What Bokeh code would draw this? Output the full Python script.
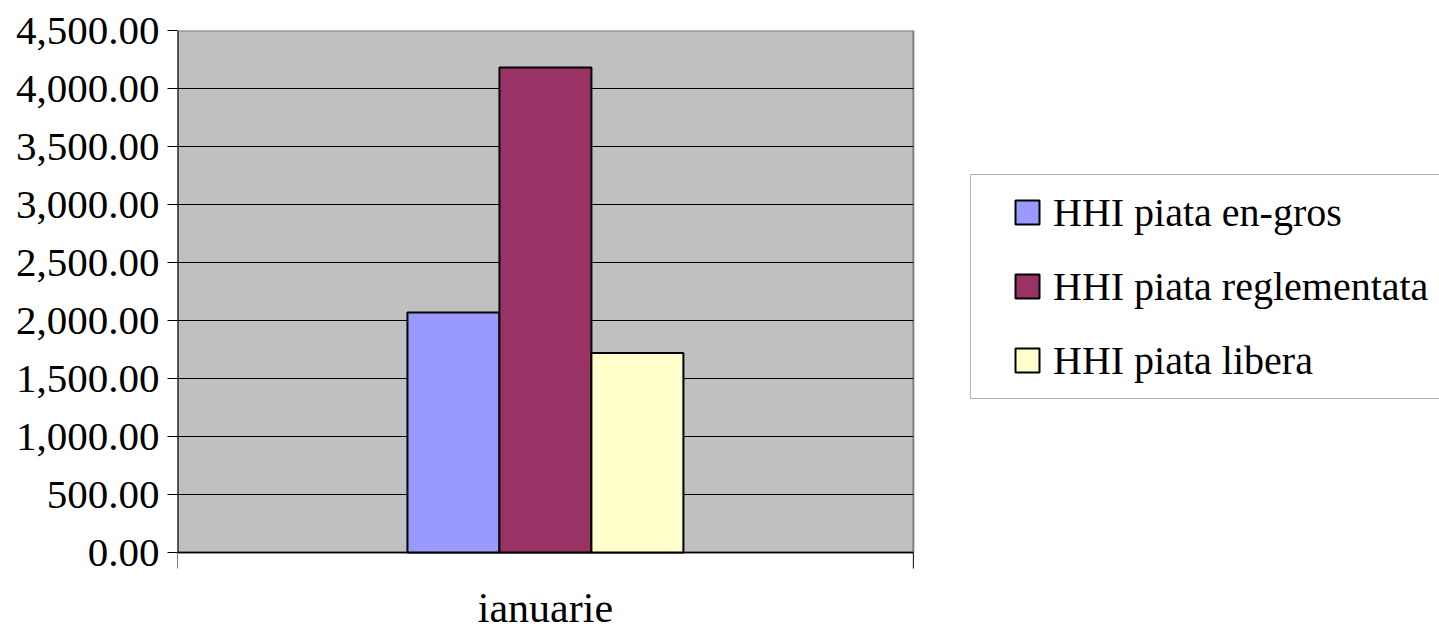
from bokeh.plotting import figure
from bokeh.models import Range1d, FixedTicker, NumeralTickFormatter, Legend, LegendItem, BoxAnnotation
from bokeh.core.properties import value
from bokeh.embed import file_html
from bokeh.resources import INLINE

categories = ["ianuarie"]
series_names = ["HHI piata en-gros", "HHI piata reglementata", "HHI piata libera"]
hhi_engros = [2070.0]
hhi_reglementata = [4180.0]
hhi_libera = [1720.0]
series_values = [hhi_engros, hhi_reglementata, hhi_libera]
colors = ["#9999FF", "#993366", "#FFFFCC"]
y_ticks = [0, 500, 1000, 1500, 2000, 2500, 3000, 3500, 4000, 4500]
y_max = 4500

FONT = "Liberation Serif"
n = len(categories)

# layout: plot area is 736 x 522 px; below it a 78 px band for category ticks/labels
PLOT_H = 522
BAND = 78
u = y_max / PLOT_H  # data units per pixel (vertical)

p = figure(width=1439, height=630, output_backend="svg", toolbar_location=None,
           x_range=Range1d(0, n * 1.715), y_range=Range1d(-BAND * u, y_max),
           min_border_left=177, min_border_right=0, min_border_top=30, min_border_bottom=0)

p.background_fill_color = "white"
p.border_fill_color = "white"
p.outline_line_color = None
p.grid.visible = False
p.xaxis.visible = False

# plot area
p.quad(left=[0], right=[n], bottom=[0], top=[y_max], fill_color="#C0C0C0",
       line_color="#808080", line_width=2)
p.segment(x0=[0] * (len(y_ticks) - 2), x1=[n] * (len(y_ticks) - 2),
          y0=y_ticks[1:-1], y1=y_ticks[1:-1], line_color="black", line_width=1)
# axis lines
p.segment(x0=[0], x1=[n], y0=[0], y1=[0], line_color="black", line_width=1.5)
p.segment(x0=[0], x1=[0], y0=[0], y1=[y_max], line_color="black", line_width=2)
# category boundary ticks
p.segment(x0=list(range(n + 1)), x1=list(range(n + 1)), y0=[0] * (n + 1),
          y1=[-16 * u] * (n + 1), line_color="black", line_width=1)
# category labels
p.text(x=[i + 0.5 for i in range(n)], y=[-55 * u] * n, text=categories,
       text_align="center", text_baseline="middle",
       text_font=value(FONT), text_font_size="42px", text_color="black")

bar_w = 0.125
renderers = []
for j, vals in enumerate(series_values):
    xs = [i + 0.5 + (j - 1) * bar_w for i in range(n)]
    r = p.vbar(x=xs, top=vals, bottom=0, width=bar_w, fill_color=colors[j],
               line_color="black", line_width=2)
    renderers.append(r)

# y axis
p.yaxis.ticker = FixedTicker(ticks=y_ticks)
p.yaxis.formatter = NumeralTickFormatter(format="0,0.00")
p.yaxis.major_label_text_font = FONT
p.yaxis.major_label_text_font_size = "41px"
p.yaxis.major_label_text_color = "black"
p.yaxis.major_tick_out = 10
p.yaxis.major_tick_in = 0
p.yaxis.minor_tick_line_color = None
p.yaxis.axis_line_color = None
p.yaxis.major_tick_line_color = "black"
p.yaxis.major_label_standoff = 8

# legend box and legend (positions relative to the frame's bottom-left)
box = BoxAnnotation(left=793, right=1300, bottom=232, top=456,
                    left_units="screen", right_units="screen",
                    bottom_units="screen", top_units="screen",
                    fill_color="white", fill_alpha=1.0,
                    line_color="black", line_width=1)
p.add_layout(box)

legend = Legend(items=[LegendItem(label=s, renderers=[r]) for s, r in zip(series_names, renderers)],
                location=(835, 246), margin=0, padding=0, spacing=26,
                glyph_width=30, glyph_height=30, label_height=48, label_standoff=11,
                label_text_font=FONT, label_text_font_size="40px", label_text_color="black",
                border_line_color=None, background_fill_alpha=0)
p.add_layout(legend)

open("out.html", "w").write(file_html(p, INLINE))
